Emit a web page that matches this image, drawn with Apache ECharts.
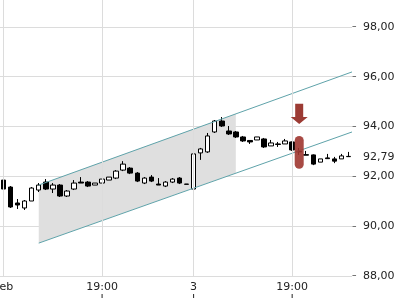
<!DOCTYPE html>
<html><head><meta charset="utf-8">
<script src="https://cdn.jsdelivr.net/npm/echarts@6/dist/echarts.min.js"></script>
<style>html,body{margin:0;padding:0;background:#fff}#c{width:400px;height:300px}</style>
</head><body><div id="c"></div>
<script>
// ---- data ----
// candles: [open, close, low, high]
const candles = [
  [91.85, 91.49, 91.21, 92.25],
  [91.57, 90.77, 90.73, 91.61],
  [90.93, 90.85, 90.69, 91.09],
  [90.73, 91.01, 90.65, 91.05],
  [91.01, 91.53, 91.01, 91.57],
  [91.45, 91.65, 91.37, 91.73],
  [91.77, 91.49, 91.45, 91.89],
  [91.49, 91.65, 91.33, 91.73],
  [91.65, 91.21, 91.17, 91.69],
  [91.21, 91.41, 91.17, 91.45],
  [91.49, 91.73, 91.45, 91.85],
  [91.77, 91.73, 91.73, 91.97],
  [91.77, 91.61, 91.57, 91.81],
  [91.65, 91.73, 91.65, 91.73],
  [91.73, 91.89, 91.73, 91.89],
  [91.85, 91.97, 91.85, 91.97],
  [91.93, 92.21, 91.89, 92.25],
  [92.25, 92.49, 92.21, 92.61],
  [92.33, 92.13, 92.09, 92.37],
  [92.13, 91.81, 91.77, 92.17],
  [91.73, 91.93, 91.69, 91.97],
  [91.97, 91.81, 91.77, 92.05],
  [91.69, 91.65, 91.65, 91.93],
  [91.61, 91.77, 91.57, 91.81],
  [91.77, 91.89, 91.73, 91.93],
  [91.93, 91.73, 91.69, 91.97],
  [91.69, 91.68, 91.68, 91.69],
  [91.49, 92.90, 91.45, 93.18],
  [92.94, 93.10, 92.66, 93.14],
  [92.98, 93.62, 92.94, 93.74],
  [93.78, 94.22, 93.74, 94.26],
  [94.22, 94.02, 93.98, 94.38],
  [93.82, 93.70, 93.66, 94.02],
  [93.78, 93.58, 93.54, 93.82],
  [93.58, 93.42, 93.38, 93.62],
  [93.44, 93.38, 93.30, 93.44],
  [93.46, 93.58, 93.46, 93.58],
  [93.50, 93.18, 93.14, 93.54],
  [93.22, 93.34, 93.22, 93.46],
  [93.30, 93.28, 93.18, 93.38],
  [93.30, 93.42, 93.30, 93.50],
  [93.38, 93.06, 93.02, 93.40],
  [93.00, 92.98, 92.86, 93.14],
  [92.87, 92.85, 92.85, 93.02],
  [92.86, 92.49, 92.45, 92.88],
  [92.57, 92.70, 92.57, 92.70],
  [92.74, 92.71, 92.70, 92.90],
  [92.70, 92.61, 92.53, 92.78],
  [92.70, 92.82, 92.70, 92.90],
  [92.80, 92.79, 92.79, 92.98]
];
const categories = candles.map((d, i) => String(i));
const tickIndex = [0, 14, 27, 41];
const tickText = ['Feb', '19:00', '3', '19:00'];
const lastClose = 92.79;

// trend channel (x in candle index units)
const channelX = [5, 49.5];
const channelUpper = [91.65, 96.19];
const channelLower = [89.32, 93.78];
const shadeX = [5, 33];
const shadeUpper = [91.65, 94.51];
const shadeLower = [89.32, 92.13];

// sell signal
const signalIndex = 42;
const arrowPrices = [94.91, 94.38, 94.10]; // top, head start, tip
const barPrices = [93.62, 92.30];          // top, bottom

// y axis
const yMin = 88, yMax = 100, yStep = 2;

// ---- chart ----
const FONT = 'DejaVu Sans';
const INK = '#222';
const X_MIN = -0.5, X_MAX = candles.length - 0.5;
const chart = echarts.init(document.getElementById('c'), null, {renderer: 'canvas'});
const fmt = v => v.toFixed(2).replace('.', ',');

chart.setOption({
  animation: false,
  backgroundColor: '#fff',
  grid: {left: 0, right: 48, top: -23, bottom: 24, containLabel: false, outerBoundsMode: 'none'},
  xAxis: [
    {
      type: 'category', data: categories, boundaryGap: true, position: 'bottom',
      axisLine: {show: false}, axisTick: {show: false}, splitLine: {show: false},
      axisLabel: {
        show: true, margin: 5, hideOverlap: false, align: 'center', verticalAlign: 'top',
        interval: (i) => tickIndex.indexOf(i) >= 0,
        formatter: (v, i) => {
          const k = tickIndex.indexOf(i);
          if (k < 0) return '';
          return '{a|' + tickText[k] + '}' + (k > 0 ? '\n{t| }' : '');
        },
        rich: {
          a: {color: INK, fontFamily: FONT, fontSize: 11, lineHeight: 13},
          t: {width: 1, height: 4, lineHeight: 4, fontSize: 1, backgroundColor: INK}
        }
      }
    },
    {type: 'value', min: X_MIN, max: X_MAX, show: false}
  ],
  yAxis: {
    type: 'value', position: 'right', min: yMin, max: yMax, interval: yStep,
    axisLine: {show: false}, axisTick: {show: false},
    splitLine: {show: true, lineStyle: {color: '#dcdcdc', width: 1}},
    axisLabel: {
      margin: 0, align: 'left',
      formatter: v => '{t|–}{v|' + fmt(v) + '}',
      rich: {
        t: {color: INK, fontFamily: FONT, fontSize: 9, lineHeight: 13, width: 5, align: 'left'},
        v: {color: INK, fontFamily: FONT, fontSize: 11, lineHeight: 13, padding: [0, 0, 0, 6]}
      }
    }
  },
  series: [
    {
      type: 'line', xAxisIndex: 1, z: 0, silent: true,
      data: [[tickIndex[0], yMin]], showSymbol: false, lineStyle: {opacity: 0},
      markLine: {
        silent: true, symbol: 'none', label: {show: false},
        lineStyle: {color: '#dcdcdc', width: 1, type: 'solid'},
        data: tickIndex.map(i => ({xAxis: i}))
      }
    },
    {
      type: 'custom', xAxisIndex: 1, z: 1, silent: true,
      data: [[shadeX[0], shadeLower[0]]],
      renderItem: (params, api) => {
        const p1 = api.coord([shadeX[0], shadeLower[0]]);
        const p2 = api.coord([shadeX[1], shadeLower[1]]);
        const p3 = api.coord([shadeX[1], shadeUpper[1]]);
        const p4 = api.coord([shadeX[0], shadeUpper[0]]);
        return {type: 'polygon', shape: {points: [p1, p2, p3, p4]}, style: {fill: '#dfdfdf'}};
      }
    },
    {
      type: 'candlestick', z: 3, barWidth: 5,
      data: candles,
      itemStyle: {color: '#ffffff', color0: '#000000', borderColor: '#000000', borderColor0: '#000000', borderWidth: 1}
    },
    {
      type: 'line', xAxisIndex: 1, z: 4, silent: true, showSymbol: false,
      lineStyle: {color: '#5fa3aa', width: 1},
      data: channelX.map((x, i) => [x, channelUpper[i]])
    },
    {
      type: 'line', xAxisIndex: 1, z: 4, silent: true, showSymbol: false,
      lineStyle: {color: '#5fa3aa', width: 1},
      data: channelX.map((x, i) => [x, channelLower[i]]),
      markLine: {
        silent: true, symbol: 'none',
        lineStyle: {color: 'rgba(0,0,0,0)', width: 1},
        label: {show: true, position: 'end', distance: 11, color: INK, fontFamily: FONT, fontSize: 11, formatter: () => fmt(lastClose)},
        data: [{yAxis: lastClose}]
      }
    },
    {
      type: 'custom', z: 10, silent: true,
      data: [[signalIndex, barPrices[0]]],
      renderItem: (params, api) => {
        const a = api.coord([signalIndex, arrowPrices[0]]);
        const b = api.coord([signalIndex, arrowPrices[1]]);
        const c = api.coord([signalIndex, arrowPrices[2]]);
        const t = api.coord([signalIndex, barPrices[0]]);
        const u = api.coord([signalIndex, barPrices[1]]);
        const x = a[0];
        return {
          type: 'group',
          children: [
            {type: 'polygon', shape: {points: [
              [x - 4, a[1]], [x + 4, a[1]], [x + 4, b[1]], [x + 8.5, b[1]],
              [x, c[1]], [x - 8.5, b[1]], [x - 4, b[1]]
            ]}, style: {fill: '#9c3b34'}},
            {type: 'rect', shape: {x: x - 4.5, y: t[1], width: 9, height: u[1] - t[1], r: 4.5},
             style: {fill: 'rgba(158,54,48,0.9)'}}
          ]
        };
      }
    }
  ]
});
</script></body></html>
